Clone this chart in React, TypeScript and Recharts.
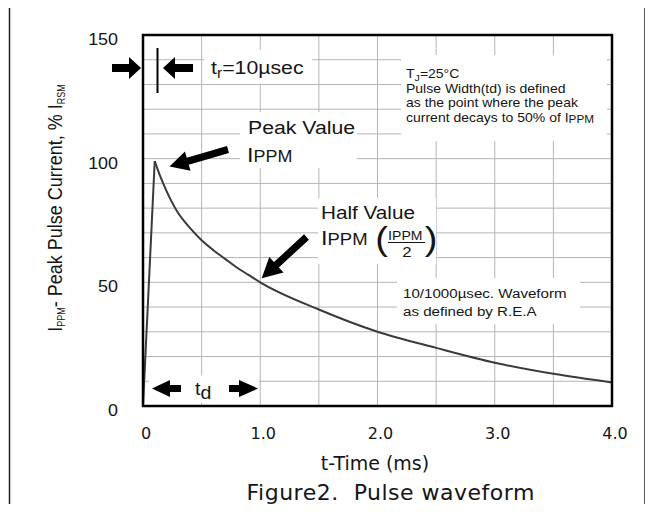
import { LineChart, Line, XAxis, YAxis, CartesianGrid } from 'recharts';

// values (t in ms, current in % of I_RSM)
const RISE_T = [0, 0.1];
const RISE_PCT = [0, 99];
const DECAY_T = [0.1, 0.15, 0.2, 0.3, 0.4, 0.5, 0.6, 0.7, 0.8, 0.9, 1.0, 1.5, 2.0, 2.5, 3.0, 3.5, 4.0];
const DECAY_PCT = [99, 92.5, 87, 78, 72, 67, 63, 59.5, 56, 53, 50, 39, 30, 23.5, 17.5, 13, 9.5];

// grid every 0.5 ms / 10 %, labels only on some of them
const GRID_X = [0, 0.5, 1, 1.5, 2, 2.5, 3, 3.5, 4];
const GRID_Y = [0, 10, 20, 30, 40, 50, 60, 70, 80, 90, 100, 110, 120, 130, 140, 150];
const X_LABELS = [0, 1, 2, 3, 4];
const Y_LABELS = [0, 50, 100, 150];

const W = 653;
const H = 512;
const PLOT = { left: 143, top: 35, right: 612, bottom: 406 };

const HELV = '"Liberation Sans", Arial, Helvetica, sans-serif';
const DJV = '"DejaVu Sans", Verdana, sans-serif';
const INK = '#151515';
const SX = 1.12; // the helvetica parts of the original are stretched sideways

const times = Array.from(new Set([...RISE_T, ...DECAY_T])).sort((a, b) => a - b);
const data = times.map((t) => {
  const ri = RISE_T.indexOf(t);
  const di = DECAY_T.indexOf(t);
  return {
    t,
    rise: ri >= 0 ? RISE_PCT[ri] : null,
    decay: di >= 0 ? DECAY_PCT[di] : null,
  };
});

function SText({ x, y, size, anchor = 'start', family = HELV, rotate = false, children }: any) {
  return (
    <g transform={`translate(${x},${y}) scale(${SX},1)${rotate ? ' rotate(-90)' : ''}`}>
      <text x={0} y={0} fontSize={size} fontFamily={family} textAnchor={anchor} fill={INK} style={{ whiteSpace: 'pre' }}>
        {children}
      </text>
    </g>
  );
}

function arrow(tx: number, ty: number, sx: number, sy: number, headLen: number, headHalf: number, shaftHalf: number) {
  const dx = sx - tx;
  const dy = sy - ty;
  const len = Math.hypot(dx, dy);
  const ux = dx / len;
  const uy = dy / len;
  const px = -uy;
  const py = ux;
  const bx = tx + ux * headLen;
  const by = ty + uy * headLen;
  const pts = [
    [tx, ty],
    [bx + px * headHalf, by + py * headHalf],
    [bx + px * shaftHalf, by + py * shaftHalf],
    [sx + px * shaftHalf, sy + py * shaftHalf],
    [sx - px * shaftHalf, sy - py * shaftHalf],
    [bx - px * shaftHalf, by - py * shaftHalf],
    [bx - px * headHalf, by - py * headHalf],
  ];
  return pts.map((p) => p.join(',')).join(' ');
}

function renderXTick({ x, y, payload }: any) {
  if (!X_LABELS.includes(payload.value)) return <g />;
  const label = payload.value === 0 ? '0' : payload.value.toFixed(1);
  return (
    <text x={x + 3} y={y + 32.5} textAnchor="middle" fontSize={16} fontFamily={DJV} fill={INK}>
      {label}
    </text>
  );
}

function renderYTick({ y, payload }: any) {
  if (!Y_LABELS.includes(payload.value)) return <g />;
  return (
    <SText x={118} y={y + 10} size={16} anchor="end">
      {payload.value}
    </SText>
  );
}

function Annotations() {
  return (
    <svg width={W} height={H} style={{ position: 'absolute', left: 0, top: 0, pointerEvents: 'none' }}>
      {/* white patches behind the labels */}
      <g fill="#fff">
        <rect x={204} y={50} width={108} height={34} />
        <rect x={401} y={55} width={206} height={86} />
        <rect x={240} y={112} width={117} height={56} />
        <rect x={318} y={198} width={118} height={66} />
        <rect x={397} y={278} width={183} height={46} />
        <rect x={149} y={375} width={110} height={28} />
      </g>

      {/* t_r marker */}
      <polygon points={arrow(141, 68, 112, 68, 12, 11, 4)} fill="#000" />
      <polygon points={arrow(163, 68, 193, 68, 12, 11, 4)} fill="#000" />
      <line x1={157.5} y1={48} x2={157.5} y2={93} stroke="#000" strokeWidth={2} />
      <SText x={211} y={74} size={19}>
        t<tspan fontSize={14} dy={4}>r</tspan>
        <tspan dy={-4}>=10µsec</tspan>
      </SText>

      {/* conditions */}
      <SText x={406} y={78} size={12.5}>
        T<tspan fontSize={9.5} dy={2.5}>J</tspan>
        <tspan dy={-2.5}>=25°C</tspan>
      </SText>
      <SText x={406} y={92.5} size={12.5}>Pulse Width(td) is defined</SText>
      <SText x={406} y={107} size={12.5}>as the point where the peak</SText>
      <SText x={406} y={121.5} size={12.5}>
        current decays to 50% of I<tspan fontSize={10.5} dy={1}>PPM</tspan>
      </SText>

      {/* peak value */}
      <SText x={248} y={133.5} size={19}>Peak Value</SText>
      <SText x={247} y={162} size={21}>
        I<tspan fontSize={16}>PPM</tspan>
      </SText>
      <polygon points={arrow(169.5, 166.5, 228, 149.5, 19, 10, 3.6)} fill="#000" />

      {/* half value */}
      <SText x={321} y={218.5} size={18.5}>Half Value</SText>
      <SText x={321} y={245} size={21}>
        I<tspan fontSize={16.5}>PPM</tspan>
      </SText>
      <SText x={375.3} y={250} size={34}>(</SText>
      <SText x={388} y={240} size={13}>
        I<tspan fontSize={12.5}>PPM</tspan>
      </SText>
      <line x1={388} y1={242.5} x2={425} y2={242.5} stroke={INK} strokeWidth={1.2} />
      <SText x={407} y={257} size={15} anchor="middle">2</SText>
      <SText x={424.8} y={250} size={34}>)</SText>
      <polygon points={arrow(261.7, 278.3, 306.5, 237, 20, 10.5, 3.6)} fill="#000" />

      {/* waveform note */}
      <SText x={403} y={298} size={13.5}>10/1000µsec. Waveform</SText>
      <SText x={403} y={316} size={13.5}>as defined by R.E.A</SText>

      {/* t_d marker */}
      <polygon points={arrow(152, 388.5, 181, 388.5, 18, 8.5, 3.6)} fill="#000" />
      <polygon points={arrow(258, 388.5, 229, 388.5, 19, 8.5, 3.6)} fill="#000" />
      <SText x={195} y={395} size={17.5}>
        t<tspan dy={4}>d</tspan>
      </SText>

      {/* y axis title */}
      <SText x={62} y={208} size={18} anchor="middle" rotate>
        I<tspan fontSize={9} dy={3}>PPM</tspan>
        <tspan dy={-3}>- Peak Pulse Current, % I</tspan>
        <tspan fontSize={9} dy={3}>RSM</tspan>
      </SText>

      {/* x axis title and caption */}
      <text x={375} y={470} textAnchor="middle" fontSize={19} fontFamily={DJV} fill={INK}>
        t-Time (ms)
      </text>
      <text x={246.5} y={500} fontSize={22} letterSpacing={0.5} fontFamily={DJV} fill={INK} style={{ whiteSpace: 'pre' }}>
        {'Figure2.  Pulse waveform'}
      </text>

      {/* plot frame */}
      <rect
        x={PLOT.left}
        y={PLOT.top}
        width={PLOT.right - PLOT.left}
        height={PLOT.bottom - PLOT.top}
        fill="none"
        stroke="#000"
        strokeWidth={2.5}
      />

      {/* page frame */}
      <path d={`M9.5 ${H} V3.5 H645 V${H}`} fill="none" stroke="#222" strokeWidth={1.5} />
      <line x1={0.75} y1={0} x2={0.75} y2={H} stroke="#333" strokeWidth={1.5} />
      <line x1={652.25} y1={0} x2={652.25} y2={H} stroke="#333" strokeWidth={1.5} />
    </svg>
  );
}

export default function App() {
  return (
    <div style={{ position: 'relative', margin: -8, width: W, height: H, background: '#fff' }}>
      <LineChart
        width={W}
        height={H}
        data={data}
        margin={{ top: PLOT.top, right: W - PLOT.right, bottom: 66, left: PLOT.left - 60 }}
      >
        <CartesianGrid stroke="#b4b4b4" strokeWidth={1} />
        <XAxis
          dataKey="t"
          type="number"
          domain={[0, 4]}
          ticks={GRID_X}
          height={40}
          axisLine={false}
          tickLine={false}
          tickSize={0}
          tickMargin={0}
          tick={renderXTick}
          interval={0}
        />
        <YAxis
          type="number"
          domain={[0, 150]}
          ticks={GRID_Y}
          width={60}
          axisLine={false}
          tickLine={false}
          tickSize={0}
          tickMargin={0}
          tick={renderYTick}
          interval={0}
        />
        <Line
          dataKey="rise"
          type="linear"
          stroke="#3a3a3a"
          strokeWidth={2}
          dot={false}
          isAnimationActive={false}
        />
        <Line
          dataKey="decay"
          type="monotone"
          stroke="#3a3a3a"
          strokeWidth={2}
          dot={false}
          isAnimationActive={false}
        />
      </LineChart>
      <Annotations />
    </div>
  );
}
